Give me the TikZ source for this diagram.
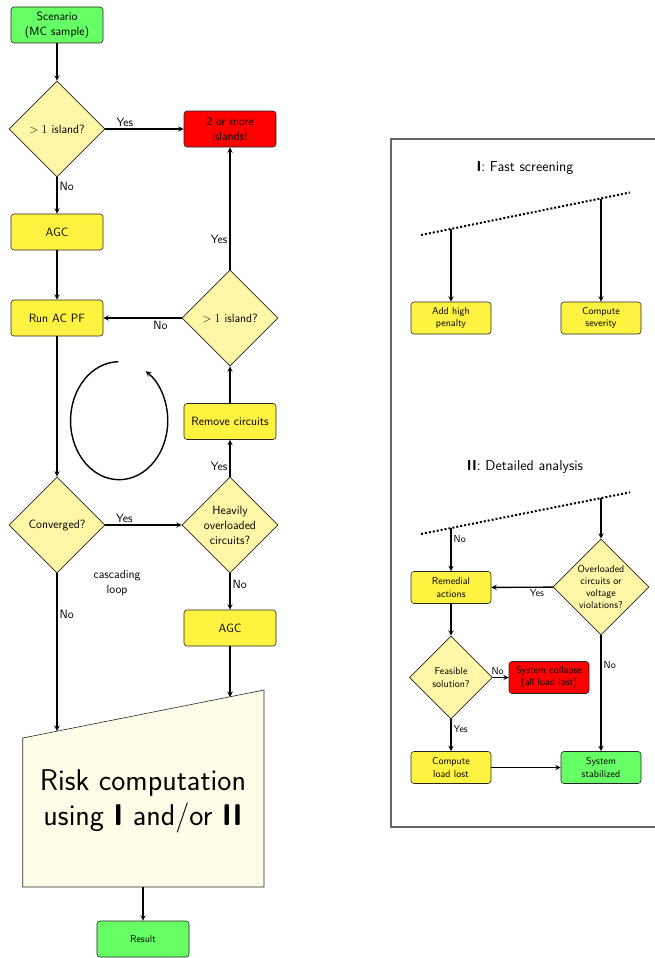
\documentclass[tikz,border=0pt]{standalone}
\usepackage{amsmath}
\usetikzlibrary{shapes.geometric, arrows}
\definecolor{boxyellow}{RGB}{255,242,64}
\definecolor{decyellow}{RGB}{255,246,168}
\definecolor{okgreen}{RGB}{102,255,102}
\definecolor{riskfill}{RGB}{255,253,232}
\newcommand{\mainfont}{\sffamily\fontsize{12}{15}\selectfont}
\newcommand{\smallfont}{\sffamily\fontsize{10}{12.3}\selectfont}

\begin{document}
\begin{tikzpicture}[x=1pt,y=-1pt,>=stealth]
    \tikzstyle{conn}=[->,line width=1.4pt]
    \tikzstyle{block}=[rectangle,rounded corners=3pt,draw=black!85,line width=0.6pt,fill=boxyellow,minimum width=92pt,minimum height=36pt,inner sep=1pt,align=center,font=\mainfont]
    \tikzstyle{decision}=[diamond,aspect=1,draw=black!85,line width=0.6pt,fill=decyellow,minimum size=96pt,inner sep=0pt,align=center,font=\mainfont]
    \tikzstyle{sblock}=[block,minimum width=80pt,minimum height=32pt,font=\smallfont]
    \tikzstyle{lbl}=[font=\mainfont,inner sep=2pt]
    \tikzstyle{slbl}=[font=\smallfont,inner sep=2pt]

    \clip (0,0) rectangle (655,958);

    % Main loop
    \node[block,fill=okgreen] (scen) at (57,25) {Scenario\\(MC sample)};
    \node[decision] (isl1) at (57,129) {$>1$ island?};
    \node[block,fill=red] (split) at (230,129) {2 or more\\islands!};
    \node[block] (agc1) at (57,232) {AGC};
    \node[block] (pf) at (57,318) {Run AC PF};
    \node[decision] (isl2) at (230,318) {$>1$ island?};
    \node[block] (rem) at (230,421.5) {Remove circuits};
    \node[decision] (conv) at (57,525) {Converged?};
    \node[decision] (heavy) at (230,525) {Heavily\\overloaded\\circuits?};
    \node[block] (agc2) at (230,628) {AGC};
    \node[lbl,align=center] (casc) at (117,583) {cascading\\loop};

    \draw[conn] (scen) -- (isl1);
    \draw[conn] (isl1) -- node[lbl,above,pos=0.25] {Yes} (split);
    \draw[conn] (isl1) -- node[lbl,right,pos=0.25] {No} (agc1);
    \draw[conn] (agc1) -- (pf);
    \draw[conn] (isl2) -- node[lbl,below,pos=0.27] {No} (pf);
    \draw[conn] (isl2) -- node[lbl,left,pos=0.25] {Yes} (split);
    \draw[conn] (pf) -- (conv);
    \draw[conn] (conv) -- node[lbl,above,pos=0.25] {Yes} (heavy);
    \draw[conn] (heavy) -- node[lbl,left,pos=0.27] {Yes} (rem);
    \draw[conn] (rem) -- (isl2);
    \draw[conn] (heavy) -- node[lbl,right,pos=0.3] {No} (agc2);
    \draw[conn] (118.3,361.7) arc[start angle=91,end angle=417,x radius=48.6pt,y radius=59pt];

    % Risk computation
    \coordinate (rtl) at (22.7,738);
    \coordinate (rtr) at (264,690);
    \coordinate (rbr) at (264,887);
    \coordinate (rbl) at (22.7,887);
    \draw[draw=black!85,line width=0.6pt,fill=riskfill] (rtl) -- (rtr) -- (rbr) -- (rbl) -- cycle;
    \node[align=center,font=\sffamily\fontsize{30}{35}\selectfont] (risk) at (143,801) {Risk computation\\using \textbf{I} and/or \textbf{II}};
    \coordinate (rin1) at (57,731);
    \coordinate (rin2) at (230,697);
    \coordinate (rout) at (143,887);
    \node[block,fill=okgreen] (res) at (143,939) {\smallfont Result};

    \draw[conn] (conv) -- node[lbl,right,pos=0.26] {No} (rin1);
    \draw[conn] (agc2) -- (rin2);
    \draw[conn] (rout) -- (res);

    % Right panel
    \draw[black!60,line width=1.2pt] (391,139) rectangle (700,827);

    % I: fast screening
    \node[font=\sffamily\fontsize{14.4}{17}\selectfont] (t1) at (525,168) {\textbf{I}: Fast screening};
    \coordinate (d1a) at (421,235);
    \coordinate (d1b) at (630,192.5);
    \draw[dotted,line width=2pt] (d1a) -- (d1b);
    \coordinate (d1l) at (451,229);
    \coordinate (d1r) at (601,198.5);
    \node[sblock] (pen) at (451,318) {Add high\\penalty};
    \node[sblock] (sev) at (601,318) {Compute\\severity};
    \draw[conn] (d1l) -- (pen);
    \draw[conn] (d1r) -- (sev);

    % II: detailed analysis
    \node[font=\sffamily\fontsize{14.4}{17}\selectfont] (t2) at (525,467) {\textbf{II}: Detailed analysis};
    \coordinate (d2a) at (421,534);
    \coordinate (d2b) at (630,492.3);
    \draw[dotted,line width=2pt] (d2a) -- (d2b);
    \coordinate (d2l) at (451,528);
    \coordinate (d2r) at (601,498);
    \node[sblock] (rema) at (451,587.5) {Remedial\\actions};
    \node[decision,font=\smallfont] (ovl) at (601,587) {Overloaded\\circuits or\\voltage\\violations?};
    \node[decision,font=\smallfont,minimum size=83pt] (feas) at (451,677.5) {Feasible\\solution?};
    \node[sblock,fill=red] (coll) at (549,677.5) {System collapse\\(all load lost)};
    \node[sblock] (lost) at (451,767.5) {Compute\\load lost};
    \node[sblock,fill=okgreen] (stab) at (601,767.5) {System\\stabilized};

    \draw[conn] (d2l) -- node[slbl,right,pos=0.25] {No} (rema);
    \draw[conn] (d2r) -- (ovl);
    \draw[conn] (ovl) -- node[slbl,below,pos=0.26] {Yes} (rema);
    \draw[conn] (rema) -- (feas);
    \draw[conn] (feas) -- node[slbl,above,pos=0.3] {No} (coll);
    \draw[conn] (feas) -- node[slbl,right,pos=0.3] {Yes} (lost);
    \draw[conn] (lost) -- (stab);
    \draw[conn] (ovl) -- node[slbl,right,pos=0.26] {No} (stab);
\end{tikzpicture}
\end{document}
